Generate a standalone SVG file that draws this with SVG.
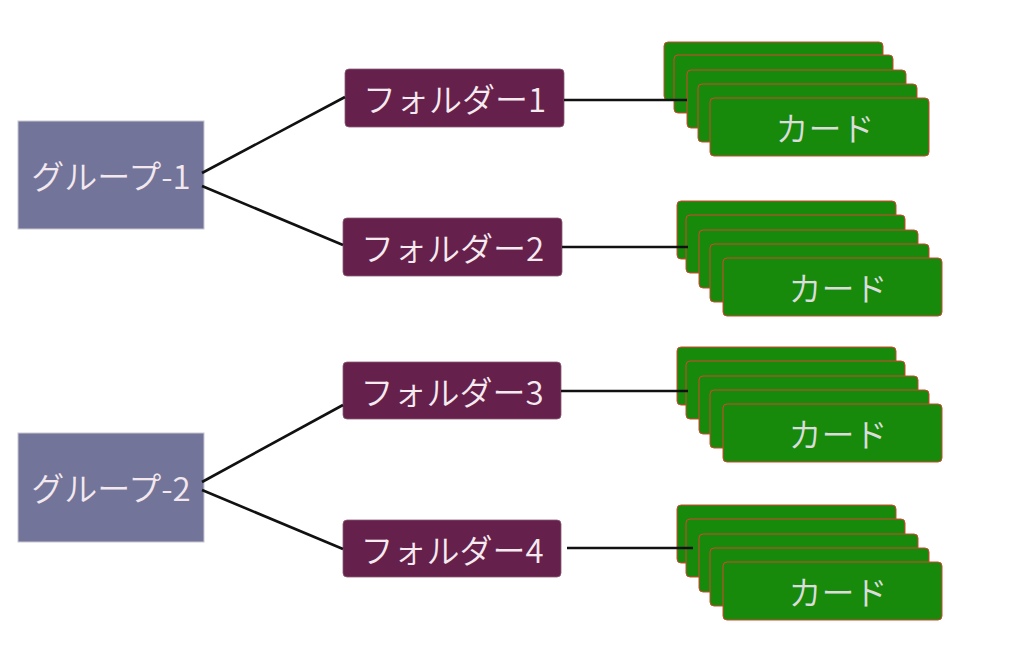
<svg xmlns="http://www.w3.org/2000/svg" width="1024" height="661" viewBox="0 0 1024 661">
<defs>
<style>
.grp rect{fill:#727499;stroke:#c8c8d0;stroke-width:1}
.fld rect{fill:#65204B;stroke:#8a5a75;stroke-width:0.8}
.card rect{fill:#178A0C;stroke:#d8452f;stroke-width:1}
text{font-family:"Noto Sans CJK JP","Noto Sans",sans-serif;font-size:33px;font-weight:350;text-anchor:middle;dominant-baseline:central}
.grp text{fill:#f2e8ee}
.fld text{fill:#f5eaf0}
.card text{fill:#dcdcdc}
.conn line{stroke:#111;stroke-width:2.6;fill:none}
</style>
</defs>
<rect width="1024" height="661" fill="#ffffff"/>
<g id="group1" class="grp"><rect x="18" y="121" width="186" height="108"/><text x="111" y="175">グループ-1</text></g>
<g id="group2" class="grp"><rect x="18" y="433" width="186" height="109"/><text x="111" y="487">グループ-2</text></g>
<g id="folder1" class="fld"><rect x="345" y="69" width="219" height="58" rx="4"/><text x="454.5" y="98">フォルダー1</text></g>
<g id="folder2" class="fld"><rect x="343" y="218" width="219" height="58" rx="4"/><text x="452.5" y="247">フォルダー2</text></g>
<g id="folder3" class="fld"><rect x="343" y="362" width="218" height="57" rx="4"/><text x="452" y="390.5">フォルダー3</text></g>
<g id="folder4" class="fld"><rect x="343" y="520" width="218" height="57" rx="4"/><text x="452" y="548.5">フォルダー4</text></g>
<g id="cards1" class="card">
<rect x="664" y="42" width="219" height="58" rx="4"/>
<rect x="674" y="55" width="219" height="58" rx="4"/>
<rect x="687" y="70" width="219" height="58" rx="4"/>
<rect x="698" y="84" width="219" height="58" rx="4"/>
<rect x="710" y="98" width="219" height="58" rx="4"/>
<text x="825" y="127">カード</text>
</g>
<g id="cards2" class="card">
<rect x="677" y="201" width="219" height="58" rx="4"/>
<rect x="686" y="215" width="219" height="58" rx="4"/>
<rect x="699" y="230" width="219" height="58" rx="4"/>
<rect x="710" y="244" width="219" height="58" rx="4"/>
<rect x="723" y="258" width="219" height="58" rx="4"/>
<text x="838" y="287">カード</text>
</g>
<g id="cards3" class="card">
<rect x="677" y="347" width="219" height="58" rx="4"/>
<rect x="686" y="361" width="219" height="58" rx="4"/>
<rect x="699" y="376" width="219" height="58" rx="4"/>
<rect x="710" y="390" width="219" height="58" rx="4"/>
<rect x="723" y="404" width="219" height="58" rx="4"/>
<text x="838" y="433">カード</text>
</g>
<g id="cards4" class="card">
<rect x="677" y="505" width="219" height="58" rx="4"/>
<rect x="686" y="519" width="219" height="58" rx="4"/>
<rect x="699" y="534" width="219" height="58" rx="4"/>
<rect x="710" y="548" width="219" height="58" rx="4"/>
<rect x="723" y="562" width="219" height="58" rx="4"/>
<text x="838" y="591">カード</text>
</g>
<g id="connectors" class="conn">
<line x1="202" y1="173" x2="345" y2="97"/>
<line x1="202" y1="186" x2="343" y2="245"/>
<line x1="202" y1="482" x2="343" y2="405"/>
<line x1="202" y1="490" x2="343" y2="549"/>
<line x1="564" y1="100" x2="687" y2="100"/>
<line x1="562" y1="247" x2="688" y2="247"/>
<line x1="561" y1="391" x2="688" y2="391"/>
<line x1="567" y1="548" x2="693" y2="548"/>
</g>
</svg>
